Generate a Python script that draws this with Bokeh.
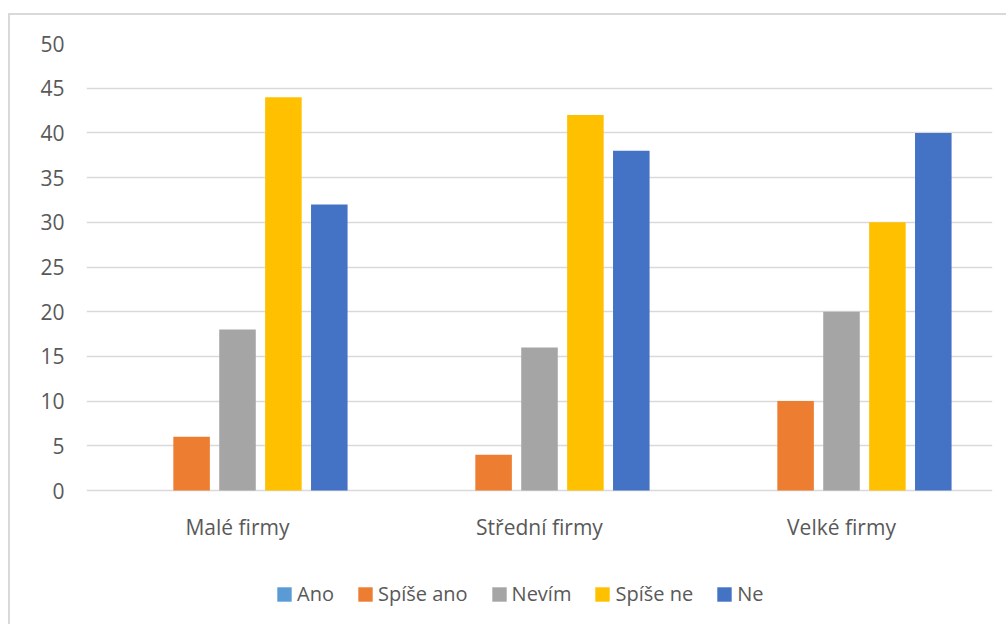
from bokeh.plotting import figure
from bokeh.models import FactorRange, Range1d, Legend, LegendItem, ColumnDataSource, FixedTicker
from bokeh.transform import dodge
from bokeh.embed import file_html
from bokeh.resources import INLINE

categories = ["Malé firmy", "Střední firmy", "Velké firmy"]
series_names = ["Ano", "Spíše ano", "Nevím", "Spíše ne", "Ne"]
ano = [0, 0, 0]
spise_ano = [6, 4, 10]
nevim = [18, 16, 20]
spise_ne = [44, 42, 30]
ne = [32, 38, 40]
y_ticks = [0, 5, 10, 15, 20, 25, 30, 35, 40, 45, 50]

colors = ["#5B9BD5", "#ED7D31", "#A5A5A5", "#FFC000", "#4472C4"]
offsets = [-0.304, -0.152, 0.0, 0.152, 0.304]
bar_w = 0.121
FONT = "Open Sans"
TXT = "#595959"

src = ColumnDataSource(dict(cat=categories, s0=ano, s1=spise_ano, s2=nevim, s3=spise_ne, s4=ne))

# frame spans to the bottom edge so the legend (below the axis) is not clipped
y_lo = -50 * 136 / 447
p = figure(x_range=FactorRange(*categories, range_padding=0), y_range=Range1d(y_lo, 50),
           width=998, height=611, output_backend="svg", toolbar_location=None,
           min_border_left=76, min_border_right=16, min_border_top=28, min_border_bottom=0)
p.styles = {"margin-left": "8px", "margin-top": "13px",
            "border-left": "2px solid #D9D9D9", "border-top": "2px solid #D9D9D9"}
p.outline_line_color = None
p.background_fill_color = "white"
p.border_fill_color = "white"

renderers = []
for i, name in enumerate(series_names):
    r = p.vbar(x=dodge("cat", offsets[i], range=p.x_range), top="s%d" % i, bottom=0, width=bar_w,
               source=src, fill_color=colors[i], line_color=None)
    renderers.append(r)

p.xgrid.grid_line_color = None
p.ygrid.grid_line_color = "#D9D9D9"
p.ygrid.grid_line_width = 1.5
p.yaxis.ticker = FixedTicker(ticks=y_ticks)
p.xaxis.fixed_location = 0
for ax in (p.xaxis[0], p.yaxis[0]):
    ax.axis_line_color = None
    ax.major_tick_line_color = None
    ax.minor_tick_line_color = None
    ax.major_label_text_font = FONT
    ax.major_label_text_font_size = "21px"
    ax.major_label_text_color = TXT
p.yaxis.major_label_standoff = 16
p.xaxis.major_label_standoff = 16

legend = Legend(items=[LegendItem(label=n, renderers=[r]) for n, r in zip(series_names, renderers)],
                orientation="horizontal", location=(189, 19),
                glyph_width=18, glyph_height=18, label_standoff=4, spacing=22,
                padding=0, margin=0, border_line_color=None, background_fill_alpha=0,
                label_text_font=FONT, label_text_font_size="20px", label_text_color=TXT)
p.add_layout(legend)

open("out.html", "w").write(file_html(p, INLINE))
